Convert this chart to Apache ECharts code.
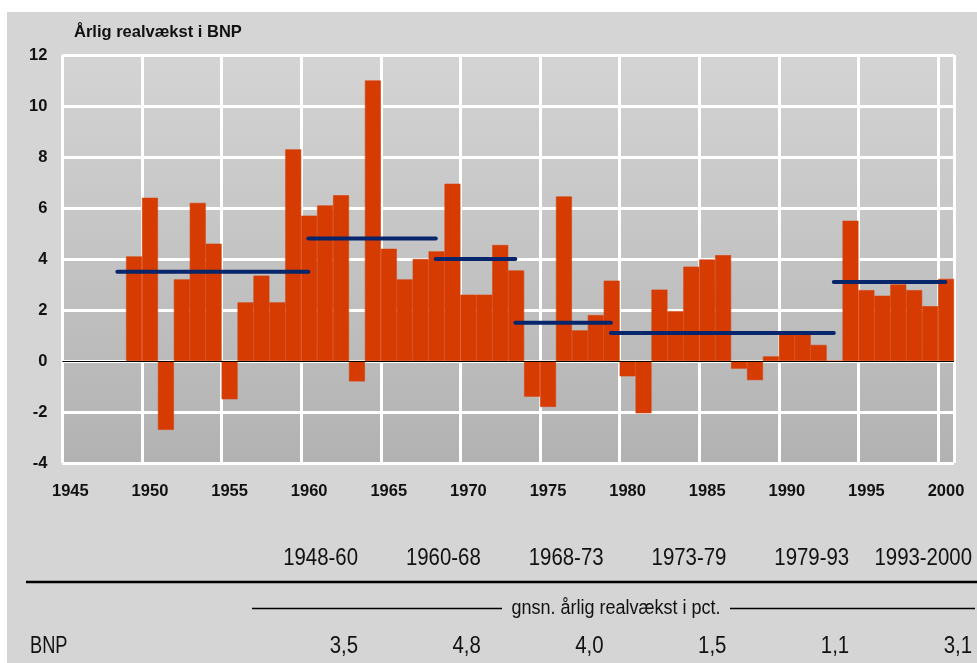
<!DOCTYPE html>
<html>
<head>
<meta charset="utf-8">
<script src="https://cdn.jsdelivr.net/npm/echarts@6/dist/echarts.min.js"></script>
<style>
html, body { margin: 0; padding: 0; background: #fff; }
#panel { position: absolute; left: 7px; top: 12px; width: 970px; height: 651px; background: #d5d5d5; }
#chart { position: absolute; left: 0; top: 0; width: 977px; height: 663px; }
</style>
</head>
<body>
<div id="panel"></div>
<div id="chart"></div>
<script>
// år og årlig realvækst i BNP (pct.)
const years = ['1945','1946','1947','1948','1949','1950','1951','1952','1953','1954',
  '1955','1956','1957','1958','1959','1960','1961','1962','1963','1964',
  '1965','1966','1967','1968','1969','1970','1971','1972','1973','1974',
  '1975','1976','1977','1978','1979','1980','1981','1982','1983','1984',
  '1985','1986','1987','1988','1989','1990','1991','1992','1993','1994',
  '1995','1996','1997','1998','1999','2000'];
const growth = [null, null, null, null, 4.1, 6.4, -2.7, 3.2, 6.2, 4.6,
  -1.5, 2.3, 3.35, 2.3, 8.3, 5.7, 6.1, 6.5, -0.8, 11.0,
  4.4, 3.2, 4.0, 4.3, 6.95, 2.6, 2.6, 4.55, 3.55, -1.4,
  -1.8, 6.45, 1.2, 1.8, 3.15, -0.6, -2.05, 2.8, 1.95, 3.7,
  3.98, 4.15, -0.3, -0.75, 0.18, 1.05, 1.05, 0.63, 0, 5.5,
  2.78, 2.56, 3.0, 2.78, 2.15, 3.22];

// perioder og gennemsnitlig vækst
const periodLabels = ['1948-60', '1960-68', '1968-73', '1973-79', '1979-93', '1993-2000'];
const periodStart = [1948, 1960, 1968, 1973, 1979, 1993];
const periodEnd = [1960, 1968, 1973, 1979, 1993, 2000];
const averages = [3.5, 4.8, 4.0, 1.5, 1.1, 3.1];

const yTicks = { min: -4, max: 12, interval: 2 };

const boldFont = '"Liberation Sans", Arial, sans-serif';
const tableFont = '"Liberation Sans", Arial, sans-serif';
const squeeze = 0.85; // smal skrift i tabellen

let myChart = echarts.init(document.getElementById('chart'));

// blå gennemsnitslinjer, en serie pr. periode (midt i årets søjle)
const avgSeries = averages.map(function (v, i) {
    return {
        type: 'line',
        xAxisIndex: 1,
        symbol: 'none',
        silent: true,
        z: 5,
        lineStyle: { color: '#06256a', width: 4, cap: 'round' },
        data: [[periodStart[i] + 0.45, v], [periodEnd[i] + 0.45, v]]
    };
});

const narrowText = function (text, x, y, size, align, sx) {
    return {
        type: 'text', silent: true, x: x, y: y, scaleX: sx,
        style: { text: text, x: 0, y: 0, align: align, verticalAlign: 'middle',
                 font: size + 'px ' + tableFont, fill: '#111' }
    };
};

// tabel under grafen
const colRight = periodLabels.map(function (p, i) { return 358 + i * 122.8; });
const tableGraphics = [];
periodLabels.forEach(function (p, i) {
    tableGraphics.push(narrowText(p, colRight[i], 558, 24, 'right', squeeze));
    tableGraphics.push(narrowText(averages[i].toFixed(1).replace('.', ','), colRight[i], 646, 24, 'right', squeeze));
});
tableGraphics.push(
    { type: 'line', silent: true, shape: { x1: 26, y1: 582, x2: 977, y2: 582 },
      style: { stroke: '#000', lineWidth: 2.5 } },
    { type: 'line', silent: true, shape: { x1: 252, y1: 608.5, x2: 502, y2: 608.5 },
      style: { stroke: '#000', lineWidth: 1.6 } },
    { type: 'line', silent: true, shape: { x1: 730, y1: 608.5, x2: 975, y2: 608.5 },
      style: { stroke: '#000', lineWidth: 1.6 } },
    narrowText('gnsn. årlig realvækst i pct.', 616, 608, 20, 'center', 0.9),
    narrowText('BNP', 30, 646, 24, 'left', 0.76),
    { type: 'text', silent: true,
      style: { text: 'Årlig realvækst i BNP', x: 74, y: 32, align: 'left', verticalAlign: 'middle',
               font: 'bold 16.5px ' + boldFont, fill: '#111' } }
);

let option = {
    animation: false,
    backgroundColor: 'transparent',
    grid: {
        left: 62.4, right: 23, top: 55, bottom: 200,
        show: true,
        borderWidth: 0,
        backgroundColor: new echarts.graphic.LinearGradient(0, 0, 0, 1, [
            { offset: 0, color: '#d4d4d4' },
            { offset: 1, color: '#b2b2b2' }
        ])
    },
    xAxis: [
        {
            type: 'category',
            data: years,
            boundaryGap: true,
            axisLine: { show: false },
            axisTick: { show: false },
            axisLabel: {
                interval: 4, margin: 20,
                fontFamily: boldFont, fontWeight: 'bold', fontSize: 16.5, color: '#111'
            },
            splitLine: { show: true, interval: 4, lineStyle: { color: '#fff', width: 3 } }
        },
        {
            type: 'value', min: 1945, max: 2001, show: false
        }
    ],
    yAxis: {
        type: 'value',
        min: yTicks.min, max: yTicks.max, interval: yTicks.interval,
        axisLine: { show: false },
        axisTick: { show: false },
        axisLabel: {
            margin: 15,
            fontFamily: boldFont, fontWeight: 'bold', fontSize: 16.5, color: '#111'
        },
        splitLine: { show: true, lineStyle: { color: '#fff', width: 3 } }
    },
    series: [
        {
            type: 'bar',
            data: growth,
            barWidth: '100%',
            barCategoryGap: 0,
            silent: true,
            itemStyle: { color: '#d63c02', borderColor: '#d63c02', borderWidth: 0.6 },
            markLine: {
                silent: true,
                symbol: 'none',
                label: { show: false },
                lineStyle: { color: '#000', width: 1, type: 'solid' },
                data: [{ yAxis: 0 }]
            }
        }
    ].concat(avgSeries),
    graphic: tableGraphics
};
option && myChart.setOption(option);
</script>
</body>
</html>
